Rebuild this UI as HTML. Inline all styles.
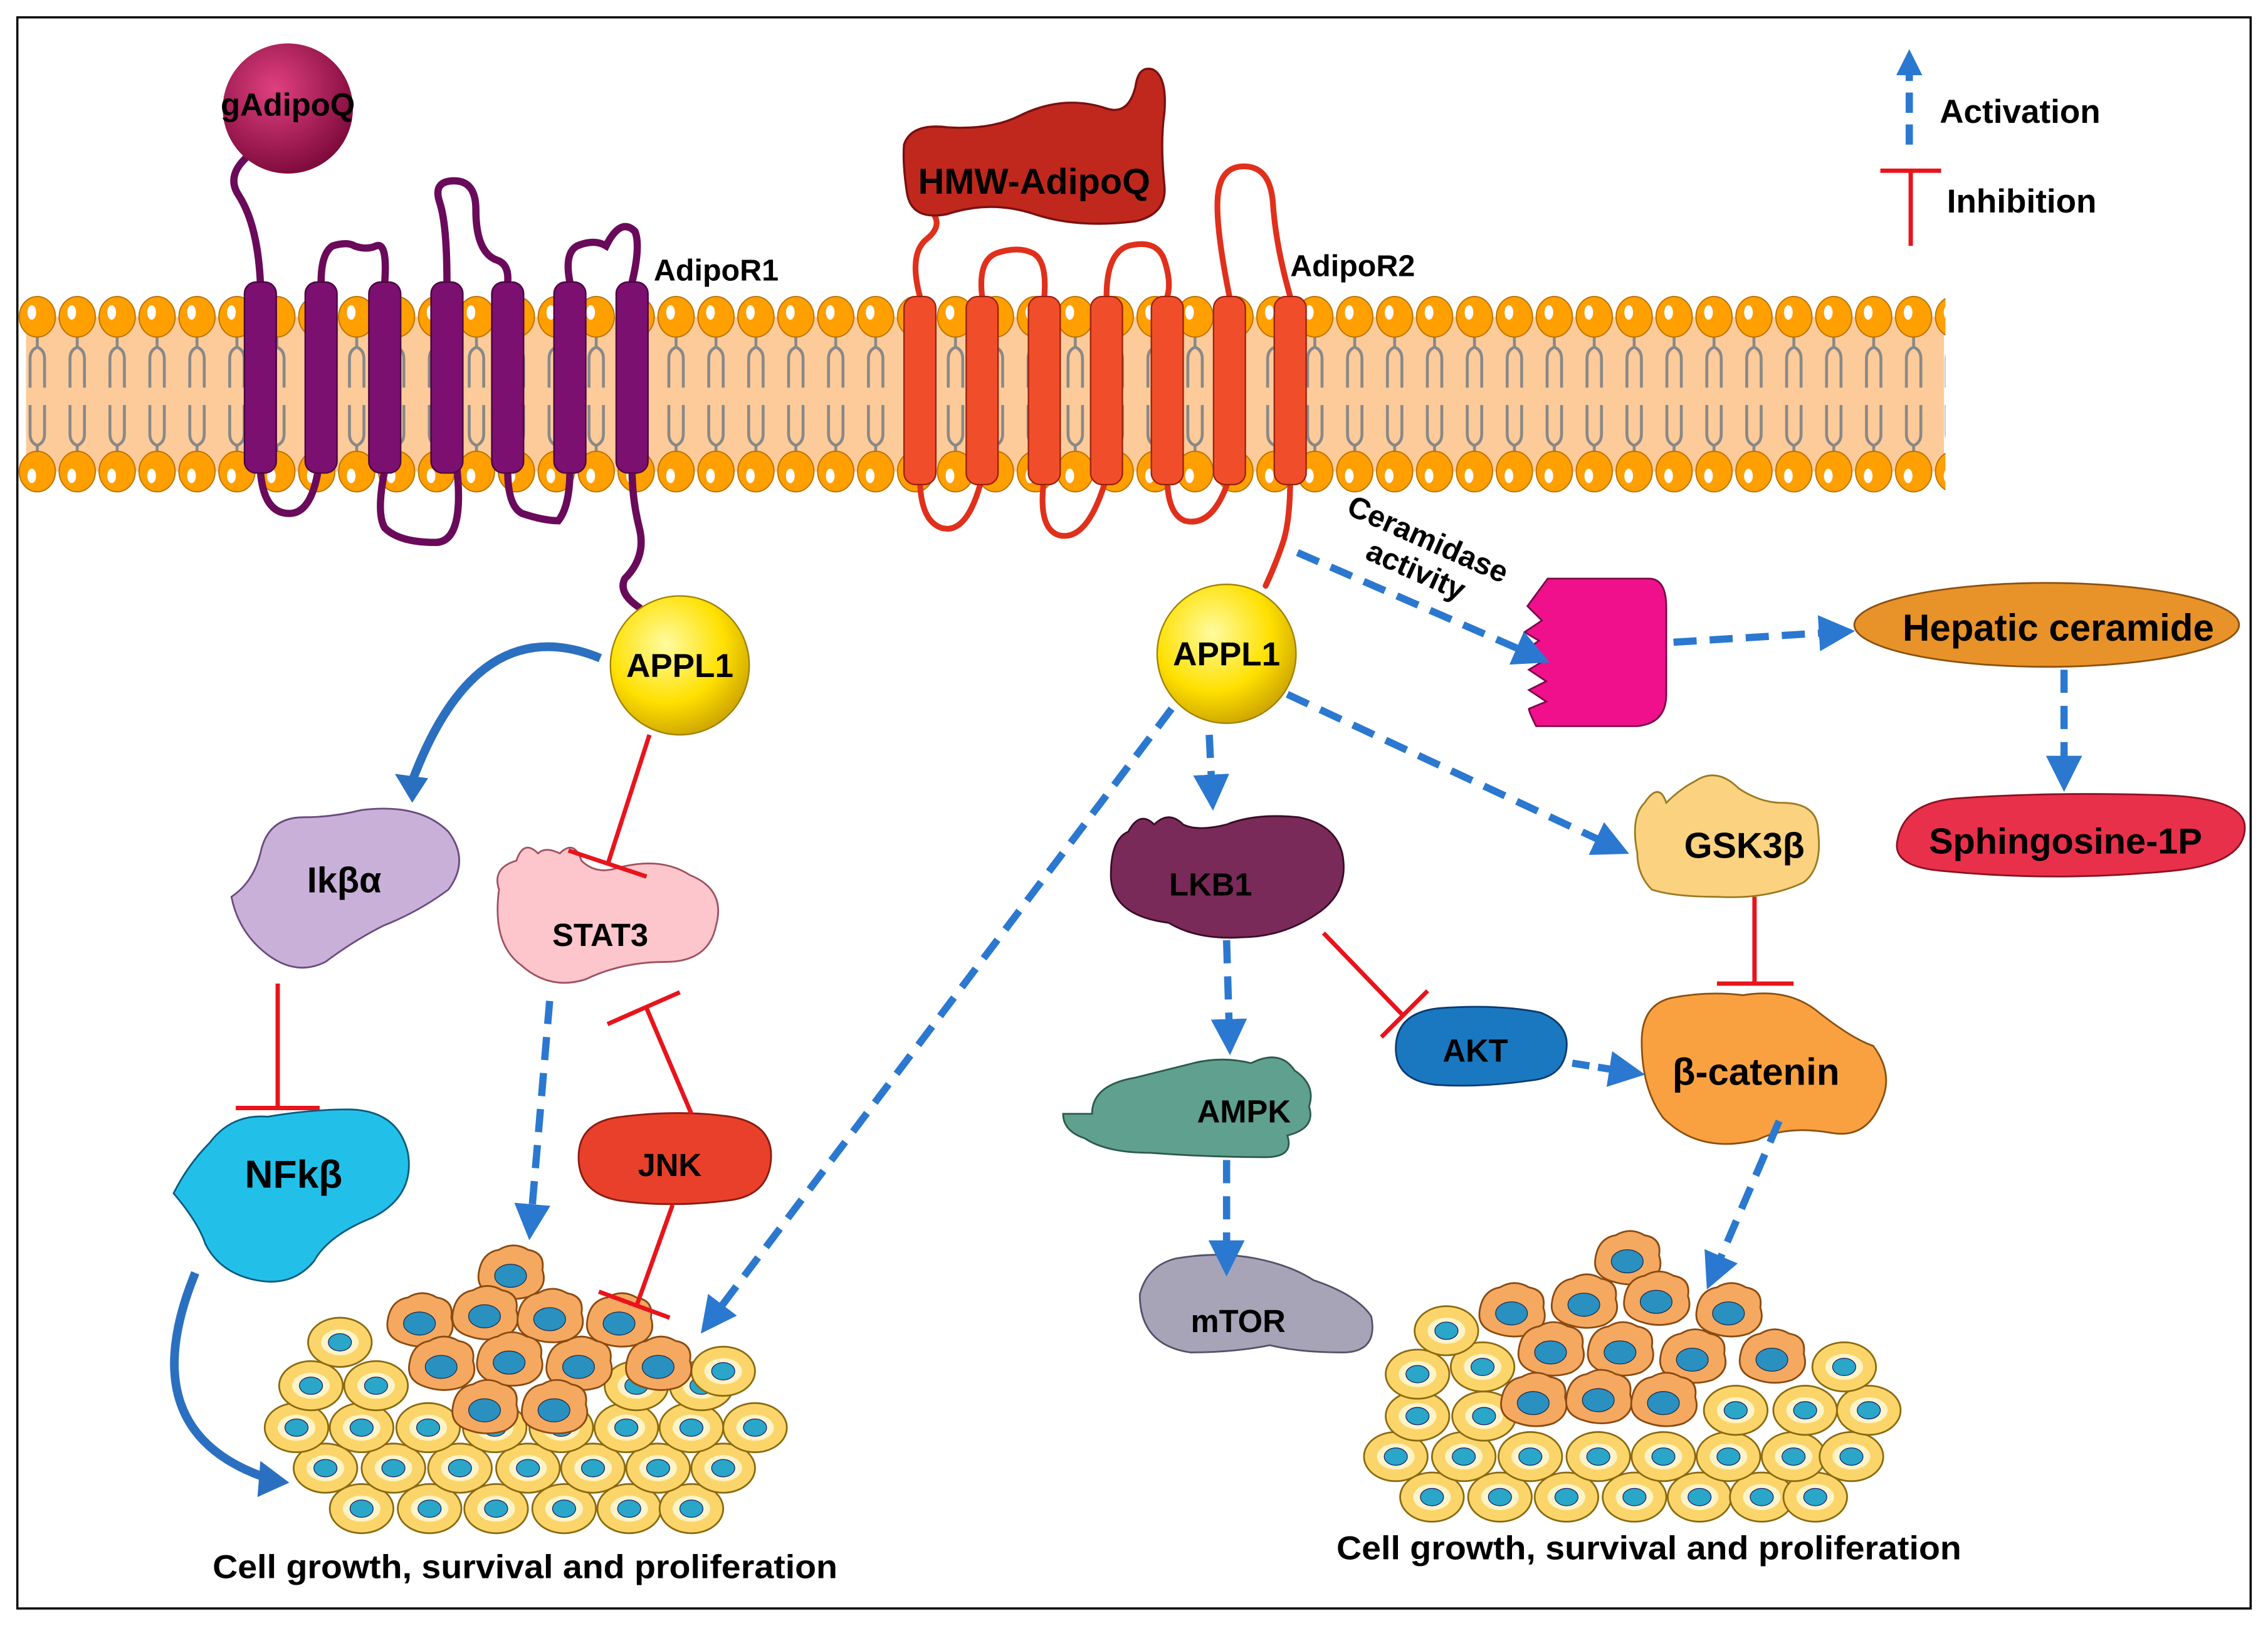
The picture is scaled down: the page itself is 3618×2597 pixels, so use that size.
<!DOCTYPE html>
<html><head><meta charset="utf-8"><style>
html,body{margin:0;padding:0;background:#fff;}
svg{display:block;}
text{font-family:"Liberation Sans",Arial,sans-serif;font-weight:bold;}
</style></head><body>
<svg width="3618" height="2597" viewBox="0 0 1568 1125.5" preserveAspectRatio="none" xmlns="http://www.w3.org/2000/svg">
<defs>
<pattern id="tails" x="12" y="0" width="27.6" height="1125" patternUnits="userSpaceOnUse">
<path d="M13.8 230 v10 M13.8 240 q-5 2 -5 8 v20 M13.8 240 q5 2 5 8 v20 M13.8 318 v-10 M13.8 308 q-5 -2 -5 -8 v-20 M13.8 308 q5 -2 5 -8 v-20" stroke="#888" stroke-width="2" fill="none"/>
</pattern>
<pattern id="heads" x="12" y="0" width="27.6" height="1125" patternUnits="userSpaceOnUse">
<ellipse cx="13.8" cy="219" rx="12.5" ry="14" fill="#FF9F00" stroke="#B87000" stroke-width="0.8"/>
<ellipse cx="10" cy="216" rx="3" ry="5" fill="#fff"/>
<ellipse cx="13.8" cy="326" rx="12.5" ry="14" fill="#FF9F00" stroke="#B87000" stroke-width="0.8"/>
<ellipse cx="10" cy="329" rx="3" ry="5" fill="#fff"/>
</pattern>
<radialGradient id="yel" cx="0.4" cy="0.35" r="0.7"><stop offset="0" stop-color="#FFFBA0"/><stop offset="0.6" stop-color="#FFE000"/><stop offset="1" stop-color="#C9A000"/></radialGradient>
<radialGradient id="crim" cx="0.4" cy="0.35" r="0.7"><stop offset="0" stop-color="#E04080"/><stop offset="1" stop-color="#7A0838"/></radialGradient>
<g id="yc"><ellipse rx="22" ry="17" fill="#FCD56A" stroke="#8A6A10" stroke-width="1.2"/><ellipse rx="13" ry="9" fill="#FFF3C8"/><ellipse rx="8" ry="6" fill="#2AA6C8" stroke="#116" stroke-width="0.5"/></g>
<g id="oc"><path d="M-22 -2 q2 -14 14 -16 q10 -6 20 0 q12 2 10 14 q4 12 -8 18 q-12 4 -24 0 q-14 -4 -12 -16z" fill="#F5A860" stroke="#8A4A10" stroke-width="1.2"/><ellipse rx="11" ry="8" fill="#2A90C0" stroke="#124" stroke-width="0.5"/></g>
<marker id="ab" markerWidth="5" markerHeight="5" refX="2.5" refY="2.5" orient="auto" markerUnits="strokeWidth"><path d="M0 0 L5 2.5 L0 5z" fill="#2B78D0"/></marker>
</defs>
<rect width="1568" height="1126" fill="#fff"/>
<rect x="12" y="12" width="1544" height="1100" fill="none" stroke="#000" stroke-width="1.5"/>

<rect x="18" y="219" width="1326" height="107" fill="#FDCB99"/>
<rect x="12" y="0" width="1333" height="1125" fill="url(#tails)"/>
<rect x="12" y="200" width="1333" height="145" fill="url(#heads)"/>

<g fill="none" stroke="#6A0A5A" stroke-width="5" stroke-linecap="round">
<path d="M180 195 q-2 -40 -15 -60 q-10 -15 10 -30 q15 -10 5 -20 L195 115"/>
<path d="M222 195 q0 -20 8 -25 q10 -3 15 0 q8 3 15 0 q8 -3 6 25"/>
<path d="M309 195 q0 -40 -5 -55 q-5 -15 10 -15 q15 0 15 20 q0 30 15 35 q8 3 7 15"/>
<path d="M394 195 q-4 -20 5 -25 q12 -5 20 0 q10 -20 20 -10 q4 10 -2 35"/>
<path d="M180 325 q2 30 20 30 q15 0 20 -30"/>
<path d="M266 325 q-6 30 0 40 q10 10 35 10 q20 0 15 -50"/>
<path d="M351 325 q0 25 10 30 q15 5 25 5 q8 -10 8 -35"/>
<path d="M437 325 q0 20 5 40 q5 20 -10 35 q-5 10 10 20"/>
</g>
<g fill="#7B1070" stroke="#4A0040" stroke-width="1">
<rect x="169" y="195" width="22" height="132" rx="8"/><rect x="211" y="195" width="22" height="132" rx="8"/><rect x="255" y="195" width="22" height="132" rx="8"/><rect x="298" y="195" width="22" height="132" rx="8"/><rect x="340" y="195" width="22" height="132" rx="8"/><rect x="383" y="195" width="22" height="132" rx="8"/><rect x="426" y="195" width="22" height="132" rx="8"/>
</g>
<circle cx="199" cy="75" r="45" fill="url(#crim)"/>
<text x="199" y="80" font-size="22" text-anchor="middle">gAdipoQ</text>
<text x="452" y="194" font-size="21">AdipoR1</text>

<g fill="none" stroke="#E0301C" stroke-width="4" stroke-linecap="round">
<path d="M636 205 q-8 -30 5 -40 q12 -10 2 -20"/>
<path d="M679 205 q-3 -25 10 -30 q15 -5 25 0 q10 5 8 30"/>
<path d="M765 205 q0 -30 15 -35 q20 -5 25 10 q5 15 2 25"/>
<path d="M850 205 q-10 -50 -8 -70 q2 -20 18 -20 q18 0 20 25 q2 30 12 65"/>
<path d="M636 330 q0 30 15 35 q18 5 28 -35"/>
<path d="M722 330 q-5 35 10 40 q20 5 33 -40"/>
<path d="M807 330 q0 25 12 30 q20 5 31 -30"/>
<path d="M892 330 q0 30 -5 45 q-5 15 -12 30"/>
</g>
<g fill="#F04E2A" stroke="#9A2010" stroke-width="1">
<rect x="625" y="205" width="22" height="130" rx="8"/><rect x="668" y="205" width="22" height="130" rx="8"/><rect x="711" y="205" width="22" height="130" rx="8"/><rect x="754" y="205" width="22" height="130" rx="8"/><rect x="796" y="205" width="22" height="130" rx="8"/><rect x="839" y="205" width="22" height="130" rx="8"/><rect x="881" y="205" width="22" height="130" rx="8"/>
</g>
<path d="M625 100 q5 -15 30 -12 q30 2 50 -8 q30 -15 60 -5 q15 5 20 -15 q2 -15 12 -12 q10 5 8 30 q-3 20 0 50 q2 20 -20 25 q-40 5 -70 -5 q-30 -10 -60 0 q-25 5 -28 -15 q-3 -20 -2 -33z" fill="#C0281E" stroke="#7A1010" stroke-width="1.5"/>
<text x="715" y="134" font-size="25" text-anchor="middle">HMW-AdipoQ</text>
<text x="892" y="191" font-size="21">AdipoR2</text>

<line x1="1320" y1="100" x2="1320" y2="50" stroke="#2B78D0" stroke-width="5" stroke-dasharray="14 8"/>
<path d="M1311 52 L1320 34 L1329 52z" fill="#2B78D0"/>
<text x="1341" y="85" font-size="23">Activation</text>
<line x1="1321" y1="118" x2="1321" y2="170" stroke="#E8141C" stroke-width="3"/>
<line x1="1300" y1="118" x2="1342" y2="118" stroke="#E8141C" stroke-width="3"/>
<text x="1346" y="147" font-size="23">Inhibition</text>

<circle cx="470" cy="460" r="48" fill="url(#yel)" stroke="#A08000" stroke-width="1"/>
<text x="470" y="468" font-size="23" text-anchor="middle">APPL1</text>
<circle cx="848" cy="452" r="48" fill="url(#yel)" stroke="#A08000" stroke-width="1"/>
<text x="848" y="460" font-size="23" text-anchor="middle">APPL1</text>

<path d="M160 620 q15 -10 20 -30 q5 -25 30 -25 q20 0 40 -5 q40 -5 60 15 q15 20 0 40 q-20 15 -45 25 q-20 10 -40 25 q-20 10 -40 -5 q-20 -15 -25 -40z" fill="#C8B0D8" stroke="#6A4A80" stroke-width="1.2"/>
<text x="238" y="617" font-size="25" text-anchor="middle">Ikβα</text>
<path d="M345 615 q-5 -15 12 -20 q5 -15 15 -5 q5 -5 15 0 q10 -10 15 5 q10 10 25 5 q30 -8 50 5 q25 10 18 35 q-5 25 -35 25 q-30 0 -55 12 q-25 8 -45 -10 q-20 -15 -15 -52z" fill="#FCC6CC" stroke="#A05060" stroke-width="1.2"/>
<text x="415" y="654" font-size="22" text-anchor="middle">STAT3</text>
<path d="M120 825 q10 -20 25 -35 q15 -20 40 -18 q30 -5 55 -5 q35 0 42 30 q5 30 -25 45 q-30 12 -40 30 q-15 18 -40 13 q-25 -5 -35 -25 q-5 -15 -22 -35z" fill="#22C0E8" stroke="#0A5A80" stroke-width="1.2"/>
<text x="203" y="821" font-size="27" text-anchor="middle">NFkβ</text>
<path d="M400 800 q0 -25 30 -28 q40 -5 75 0 q30 5 28 30 q-2 25 -30 28 q-40 5 -75 0 q-28 -5 -28 -30z" fill="#E8402A" stroke="#8A1A10" stroke-width="1.2"/>
<text x="463" y="813" font-size="22" text-anchor="middle">JNK</text>
<path d="M768 605 q0 -25 12 -30 q8 -15 18 -5 q10 -10 20 0 q10 5 30 0 q20 -8 50 -5 q25 5 30 25 q5 25 -15 40 q-25 18 -55 18 q-30 2 -50 -10 q-40 -5 -40 -33z" fill="#7A2A58" stroke="#3A0A28" stroke-width="1.2"/>
<text x="837" y="619" font-size="22" text-anchor="middle">LKB1</text>
<path d="M755 770 q0 -20 30 -25 q20 -5 40 -10 q20 -5 40 0 q20 -10 30 5 q15 10 10 25 q5 15 -15 20 q5 15 -15 15 q-40 0 -80 -3 q-30 0 -45 -10 q-15 -5 -15 -17z" fill="#5FA08E" stroke="#2A5A4A" stroke-width="1.2"/>
<text x="860" y="776" font-size="22" text-anchor="middle">AMPK</text>
<path d="M788 895 q5 -20 25 -25 q30 -5 55 0 q25 5 40 15 q30 10 40 25 q5 25 -20 25 q-30 0 -50 -5 q-25 5 -55 5 q-35 -5 -35 -40z" fill="#A8A4B8" stroke="#55506A" stroke-width="1.2"/>
<text x="856" y="921" font-size="22" text-anchor="middle">mTOR</text>
<path d="M965 725 q0 -25 30 -28 q40 -3 70 3 q20 8 18 25 q-2 20 -25 22 q-35 5 -65 3 q-28 -3 -28 -25z" fill="#1A78C0" stroke="#0A3A70" stroke-width="1.2"/>
<text x="1020" y="734" font-size="22" text-anchor="middle">AKT</text>
<path d="M1132 590 q-5 -25 5 -35 q10 -15 15 0 q10 -10 20 -15 q15 -10 30 5 q15 10 30 10 q25 0 25 20 q3 25 -10 35 q-25 12 -60 10 q-30 0 -45 -5 q-10 -10 -10 -25z" fill="#FBD280" stroke="#9A7A20" stroke-width="1.2"/>
<text x="1206" y="593" font-size="25" text-anchor="middle">GSK3β</text>
<path d="M1135 720 q0 -25 20 -30 q25 -5 50 -2 q30 -5 50 10 q25 20 40 25 q15 20 5 40 q-10 25 -35 20 q-30 -5 -50 5 q-40 10 -65 -15 q-15 -20 -15 -53z" fill="#F9A040" stroke="#8A5010" stroke-width="1.2"/>
<text x="1214" y="750" font-size="26" text-anchor="middle">β-catenin</text>
<ellipse cx="1415" cy="432" rx="133" ry="29" fill="#E8922A" stroke="#8A5010" stroke-width="1.2"/>
<text x="1423" y="443" font-size="26" text-anchor="middle">Hepatic ceramide</text>
<path d="M1312 580 q5 -25 40 -28 q70 -5 150 -2 q50 3 50 22 q0 25 -50 30 q-80 8 -160 0 q-35 -3 -30 -22z" fill="#E8304A" stroke="#8A1020" stroke-width="1.2"/>
<text x="1428" y="590" font-size="25" text-anchor="middle">Sphingosine-1P</text>
<path d="M1070 400 l70 0 q12 0 12 20 l0 60 q0 20 -20 22 l-70 0 q-5 -10 -5 -12 l12 -5 -12 -8 12 -6 -12 -8 10 -6 -15 -6 12 -8 -10 -6 12 -8 -10 -10z" fill="#F0108C" stroke="#7A0848" stroke-width="1.2"/>

<g>
<use href="#yc" x="250" y="1043"/><use href="#yc" x="297" y="1043"/><use href="#yc" x="343" y="1043"/><use href="#yc" x="390" y="1043"/><use href="#yc" x="435" y="1043"/><use href="#yc" x="478" y="1043"/>
<use href="#yc" x="225" y="1015"/><use href="#yc" x="272" y="1015"/><use href="#yc" x="318" y="1015"/><use href="#yc" x="365" y="1015"/><use href="#yc" x="410" y="1015"/><use href="#yc" x="455" y="1015"/><use href="#yc" x="500" y="1015"/>
<use href="#yc" x="205" y="987"/><use href="#yc" x="250" y="987"/><use href="#yc" x="296" y="987"/><use href="#yc" x="342" y="987"/><use href="#yc" x="388" y="987"/><use href="#yc" x="433" y="987"/><use href="#yc" x="478" y="987"/><use href="#yc" x="522" y="987"/>
<use href="#yc" x="215" y="958"/><use href="#yc" x="260" y="958"/><use href="#yc" x="440" y="958"/><use href="#yc" x="485" y="958"/>
<use href="#yc" x="235" y="928"/><use href="#yc" x="500" y="948"/>
<use href="#oc" x="353" y="882"/><use href="#oc" x="290" y="915"/><use href="#oc" x="335" y="910"/><use href="#oc" x="380" y="912"/><use href="#oc" x="428" y="915"/>
<use href="#oc" x="305" y="945"/><use href="#oc" x="352" y="942"/><use href="#oc" x="400" y="945"/><use href="#oc" x="455" y="945"/>
<use href="#oc" x="335" y="975"/><use href="#oc" x="383" y="975"/>
</g>
<g>
<use href="#yc" x="990" y="1035"/><use href="#yc" x="1037" y="1035"/><use href="#yc" x="1083" y="1035"/><use href="#yc" x="1130" y="1035"/><use href="#yc" x="1175" y="1035"/><use href="#yc" x="1218" y="1035"/><use href="#yc" x="1255" y="1035"/>
<use href="#yc" x="965" y="1007"/><use href="#yc" x="1012" y="1007"/><use href="#yc" x="1058" y="1007"/><use href="#yc" x="1105" y="1007"/><use href="#yc" x="1150" y="1007"/><use href="#yc" x="1195" y="1007"/><use href="#yc" x="1240" y="1007"/><use href="#yc" x="1280" y="1007"/>
<use href="#yc" x="980" y="979"/><use href="#yc" x="1026" y="979"/><use href="#yc" x="1200" y="975"/><use href="#yc" x="1248" y="975"/><use href="#yc" x="1292" y="975"/>
<use href="#yc" x="980" y="950"/><use href="#yc" x="1025" y="945"/><use href="#yc" x="1275" y="945"/>
<use href="#yc" x="1000" y="920"/>
<use href="#oc" x="1125" y="872"/><use href="#oc" x="1045" y="908"/><use href="#oc" x="1095" y="902"/><use href="#oc" x="1145" y="900"/><use href="#oc" x="1195" y="908"/>
<use href="#oc" x="1072" y="935"/><use href="#oc" x="1120" y="935"/><use href="#oc" x="1170" y="940"/><use href="#oc" x="1225" y="940"/>
<use href="#oc" x="1060" y="970"/><use href="#oc" x="1105" y="968"/><use href="#oc" x="1150" y="970"/>
</g>
<text x="363" y="1091" font-size="23" text-anchor="middle" textLength="432" lengthAdjust="spacingAndGlyphs">Cell growth,  survival and proliferation</text>
<text x="1140" y="1078" font-size="23" text-anchor="middle" textLength="432" lengthAdjust="spacingAndGlyphs">Cell growth,  survival and proliferation</text>
<text transform="translate(930,355) rotate(24)" font-size="21">Ceramidase</text>
<text transform="translate(943,386) rotate(24)" font-size="21">activity</text>

<g stroke="#E8141C" stroke-width="3" fill="none">
<line x1="449" y1="508" x2="420" y2="598"/><line x1="393" y1="588" x2="447" y2="606"/>
<line x1="192" y1="680" x2="192" y2="766"/><line x1="163" y1="766" x2="221" y2="766"/>
<line x1="478" y1="770" x2="447" y2="697"/><line x1="420" y1="708" x2="470" y2="686"/>
<line x1="465" y1="833" x2="440" y2="903"/><line x1="414" y1="893" x2="463" y2="911"/>
<line x1="915" y1="645" x2="970" y2="702"/><line x1="955" y1="717" x2="987" y2="685"/>
<line x1="1213" y1="620" x2="1213" y2="680"/><line x1="1187" y1="680" x2="1240" y2="680"/>
</g>

<g stroke="#2B78D0" stroke-width="5" stroke-dasharray="16 9" fill="none">
<line x1="380" y1="692" x2="367" y2="845" marker-end="url(#ab)"/>
<line x1="810" y1="490" x2="492" y2="912" marker-end="url(#ab)"/>
<line x1="836" y1="508" x2="838" y2="548" marker-end="url(#ab)"/>
<line x1="890" y1="480" x2="1115" y2="585" marker-end="url(#ab)"/>
<line x1="897" y1="382" x2="1060" y2="453" marker-end="url(#ab)"/>
<line x1="1157" y1="444" x2="1270" y2="437" marker-end="url(#ab)"/>
<line x1="1427" y1="463" x2="1427" y2="535" marker-end="url(#ab)"/>
<line x1="848" y1="650" x2="850" y2="717" marker-end="url(#ab)"/>
<line x1="848" y1="802" x2="848" y2="870" marker-end="url(#ab)"/>
<line x1="1087" y1="735" x2="1125" y2="741" marker-end="url(#ab)" stroke-dasharray="12 6"/>
<line x1="1230" y1="775" x2="1185" y2="880" marker-end="url(#ab)"/>
</g>
<g fill="none" stroke="#2B70C0" stroke-width="6">
<path d="M415 455 Q330 420 285 540"/>
<path d="M135 880 Q90 990 185 1022"/>
</g>
<path d="M273 535 L285 555 L296 538z" fill="#2B70C0"/>
<path d="M180 1010 L200 1025 L178 1035z" fill="#2B70C0"/>
</svg>
</body></html>
